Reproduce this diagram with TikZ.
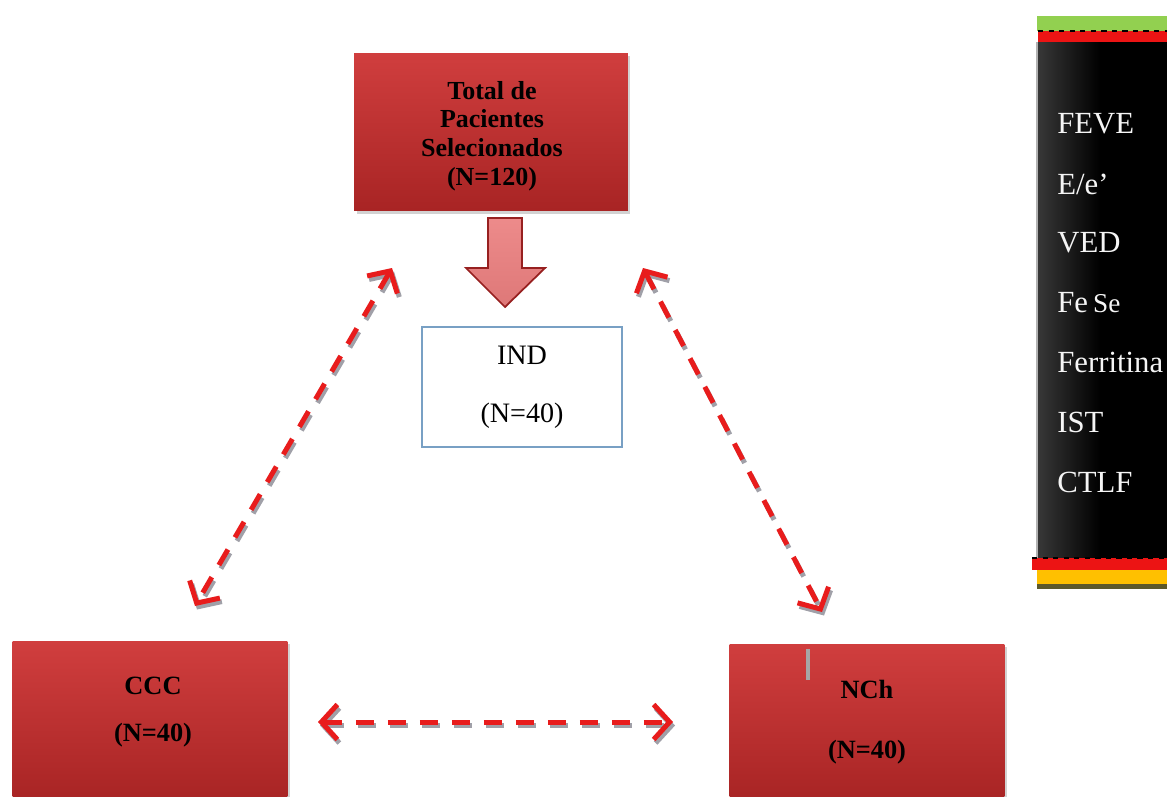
\documentclass[tikz,border=0pt]{standalone}
\usepackage{fontspec}
\setmainfont{Liberation Serif}
\usetikzlibrary{arrows.meta,shadows}

\definecolor{boxred}{RGB}{208,62,62}
\definecolor{boxdark}{RGB}{168,36,36}
\definecolor{linkred}{RGB}{232,28,28}
\definecolor{linkgray}{RGB}{160,160,168}
\definecolor{indblue}{RGB}{120,160,196}
\definecolor{barred}{RGB}{236,20,20}
\definecolor{bargreen}{RGB}{146,208,80}
\definecolor{barorange}{RGB}{255,192,0}

\begin{document}
\begin{tikzpicture}[x=0.02cm, y=-0.02cm,
  redbox/.style={top color=boxred, bottom color=boxdark, draw=none,
    drop shadow={shadow xshift=0.05cm, shadow yshift=-0.06cm, opacity=0.35}},
  boxtext/.style={align=center, font=\bfseries\fontsize{15}{18}\selectfont},
  paneltext/.style={anchor=west, inner sep=0pt, text=white!92!gray, font=\fontsize{17.5}{20}\selectfont},
  link/.style={line width=0.1cm, dash pattern=on 0.36cm off 0.28cm,
    {Straight Barb[length=0.32cm, width=0.7cm]}-{Straight Barb[length=0.32cm, width=0.7cm]}},
  ]
\useasboundingbox (0,0) rectangle (1167,796);
\fill[white] (0,0) rectangle (1167,796);

% boxes
\node[redbox, minimum width=5.48cm, minimum height=3.16cm] (total) at (491,132) {};
\node[boxtext, font=\bfseries\fontsize{14.8}{16.4}\selectfont] (totaltxt) at (492,136)
  {Total de\\Pacientes\\Selecionados\\(N=120)};

\node[draw=indblue, line width=0.7pt, fill=white, minimum width=4cm, minimum height=2.4cm] (ind) at (522,387) {};
\node[align=center, font=\fontsize{16}{19}\selectfont] (indtxt) at (522,387) {IND\\[0.5cm](N=40)};

\node[redbox, minimum width=5.5cm, minimum height=3.2cm] (ccc) at (150,721) {};
\node[boxtext] (ccctxt) at (153,712) {CCC\\[0.3cm](N=40)};

\node[redbox, minimum width=5.5cm, minimum height=3.12cm] (nch) at (867,722) {};
\node[boxtext] (nchtxt) at (867,722) {NCh\\[0.57cm](N=40)};
\draw[gray!70, line width=0.08cm] (808,649) -- (808,680);

% block arrow
\draw[top color=red!30!boxred!55!white, bottom color=boxred!70!white, draw=boxdark!90!black, line width=1pt]
  (488,218) -- (522,218) -- (522,268) -- (545,268) -- (505,307) -- (466,268) -- (488,268) -- cycle;

% link ends
\coordinate (lu) at (392,268);
\coordinate (ld) at (195,606);
\coordinate (ru) at (643,268);
\coordinate (rd) at (822,612);
\coordinate (hl) at (318,722);
\coordinate (hr) at (673,722);

\draw[link, draw=linkgray, transform canvas={xshift=0.04cm, yshift=-0.07cm}] (lu) -- (ld);
\draw[link, draw=linkred] (lu) -- (ld);
\draw[link, draw=linkgray, transform canvas={xshift=0.04cm, yshift=-0.07cm}] (ru) -- (rd);
\draw[link, draw=linkred] (ru) -- (rd);
\draw[link, draw=linkgray, transform canvas={xshift=0.04cm, yshift=-0.07cm}] (hl) -- (hr);
\draw[link, draw=linkred] (hl) -- (hr);

% side panel
\fill[bargreen] (1037,16) rectangle (1167,31);
\fill[barred] (1038,31) rectangle (1167,42);
\draw[black, dashed, line width=1.2pt] (1038,31) -- (1167,31);
\fill[left color=black!78, right color=black] (1037,42) rectangle (1100,558);
\fill[black] (1100,42) rectangle (1167,558);
\draw[gray!60, line width=0.6pt] (1037,42) -- (1037,558);
\fill[black!45!olive] (1037,583) rectangle (1167,589);
\fill[barorange] (1037,570) rectangle (1167,584);
\fill[barred] (1032,558) rectangle (1167,570);
\draw[black, dashed, line width=1.2pt] (1032,558) -- (1167,558);

\node[paneltext] (feve) at (1057,124) {FEVE};
\node[paneltext] (ee) at (1057,184) {E/e'};
\node[paneltext] (ved) at (1057,243) {VED};
\node[paneltext] (fese) at (1057,303) {Fe\,{\fontsize{15.5}{18}\selectfont Se}};
\node[paneltext] (ferr) at (1057,362) {Ferritina};
\node[paneltext] (ist) at (1057,422) {IST};
\node[paneltext] (ctlf) at (1057,482) {CTLF};

\end{tikzpicture}
\end{document}
